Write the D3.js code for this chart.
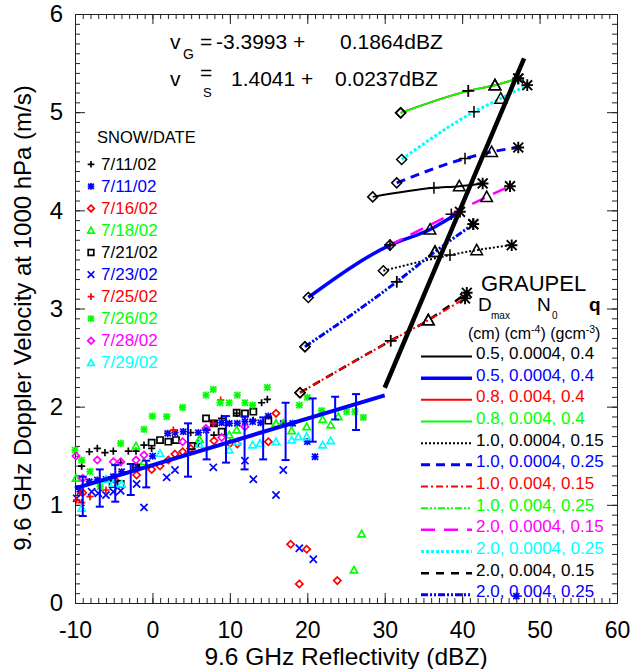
<!DOCTYPE html>
<html><head><meta charset="utf-8">
<script src="https://cdn.jsdelivr.net/npm/d3@7"></script>
<style>body{margin:0;background:#fff}svg text{font-family:"Liberation Sans",Arial,Helvetica,sans-serif}</style>
</head><body><svg id="c" width="634" height="669"></svg>
<script>
// ---------------- DATA ----------------
const xTicks = [-10, 0, 10, 20, 30, 40, 50, 60];
const yTicks = [0, 1, 2, 3, 4, 5, 6];
const xTitle = "9.6 GHz Reflectivity (dBZ)";
const yTitle = "9.6 GHz Doppler Velocity at 1000 hPa (m/s)";

const snowLabels = ["7/11/02","7/11/02","7/16/02","7/18/02","7/21/02","7/23/02","7/25/02","7/26/02","7/28/02","7/29/02"];
const snowColors = ["#000000","#0000ff","#ff0000","#00ff00","#000000","#0000ff","#ff0000","#00ff00","#ff00ff","#00ffff"];
const snowSymbols = ["plus","asterisk","diamond","triangle","square","x","plus","asterisk","diamond","triangle"];

const s0711a = [[-9.14,1.395],[-8.15,1.541],[-7.12,1.575],[-6.13,1.531],[-5.05,1.548],[-4.1,1.43],[-3.11,1.548],[-2.12,1.548],[-1.09,1.609],[-0.1,1.575],[4.94,1.735],[5.93,1.626],[7.95,1.711],[8.94,1.881],[10.88,1.932],[13.0,1.86],[14.1,2.04],[14.84,2.074]];
const s0711b = [[-9.35,1.134],[-8.15,1.236],[-7.12,1.253],[-6.0,1.26],[-5.05,1.287],[-3.97,1.337],[-1.95,1.382],[0.03,1.497],[1.97,1.728],[2.91,1.735],[3.99,1.745],[5.93,1.735],[6.92,1.762],[7.95,1.83],[8.94,1.836],[9.93,1.83],[10.96,1.83],[11.95,1.847],[12.94,1.847],[13.98,1.836],[14.97,1.904],[16.9,1.83],[18.11,1.83],[20.0,1.643],[21.0,1.49],[47.0,0.07]];
const s0716 = [[-9.01,1.124],[-4.84,1.253],[-2.04,1.304],[-0.1,1.361],[0.98,1.395],[2.05,1.456],[2.91,1.517],[3.9,1.541],[4.94,1.575],[7.95,1.653],[10.02,1.626],[10.96,1.619],[14.97,1.643],[15.96,1.932],[17.85,0.598],[18.97,0.194],[19.92,0.547],[23.88,0.228]];
const s0718 = [[-9.87,1.27],[-2.12,1.599],[-1.09,1.44],[6.06,1.667],[9.93,1.711],[10.88,1.762],[15.96,1.83],[16.9,1.83],[17.98,1.755],[19.92,1.796],[21.98,1.87],[23.02,1.813],[24.01,1.898],[27.02,0.703],[26.03,0.336]];
const s0721 = [[-5.14,1.212],[-4.1,1.212],[-2.12,1.382],[-0.1,1.633],[0.98,1.66],[2.05,1.643],[3.04,1.66],[5.07,1.599],[6.92,1.881],[7.95,1.83],[8.94,1.745],[10.88,1.938],[11.95,1.932],[13.03,1.949],[14.97,1.857]];
const s0723 = [[-9.78,1.066],[-7.85,1.134],[-6.99,1.117],[-6.0,1.1],[-5.05,1.134],[-4.1,1.144],[-2.04,1.212],[-1.09,0.974],[1.84,1.28],[2.91,1.355],[7.86,1.382],[11.95,1.45],[13.03,1.26],[15.96,1.1],[16.9,1.355],[18.97,0.557],[20.78,0.445]];
const s0725 = [[-9.78,1.049],[-9.14,1.022],[-8.06,1.083],[-6.0,1.151],[2.7,1.762],[7.86,1.83],[8.81,2.067]];
const s0726 = [[-10.0,1.558],[-9.14,1.456],[-8.06,1.338],[-6.77,1.185],[-4.1,1.626],[-1.09,1.769],[-0.01,1.904],[1.84,1.898],[3.9,1.993],[6.92,2.118],[7.86,2.176],[8.73,2.04],[9.89,2.04],[10.96,2.118],[11.95,2.04],[12.94,2.016],[14.84,2.196],[18.97,2.016],[20.0,2.095],[21.85,1.959],[25.08,1.949],[26.16,1.949],[27.24,1.891]];
const s0728 = [[-9.87,1.497],[-9.01,1.27],[-7.12,1.456],[-5.05,1.439],[-4.1,1.439],[-2.12,1.456],[-1.09,1.507],[3.9,1.643],[6.92,1.779],[8.94,1.687],[11.95,1.796]];
const s0729 = [[-9.14,0.964],[-6.0,1.26],[-5.05,1.219],[-3.97,1.212],[0.98,1.524],[6.06,1.616],[9.93,1.558],[10.96,1.643],[12.94,1.609],[13.89,1.626],[15.96,1.643],[17.98,1.66],[18.84,1.694],[19.92,1.694],[21.98,1.609],[23.02,1.653]];
const snowData = [s0711a, s0711b, s0716, s0718, s0721, s0723, s0725, s0726, s0728, s0729];

// snow bin means with error bars
const errX  = [-9.0,-6.8,-4.8,-2.8,-0.8,4.6,7.0,9.5,11.9,14.3,17.2,20.7,23.6,26.3];
const errLo = [0.886,0.981,1.032,1.100,1.178,1.287,1.463,1.430,1.361,1.463,1.456,1.643,1.870,1.762];
const errHi = [1.287,1.361,1.405,1.416,1.450,1.830,1.762,1.904,1.897,1.891,2.040,2.084,2.101,2.128];

// fits: v = a + b*dBZ
const fitNames = ["G", "S"];
const fitA = [-3.3993, 1.4041];
const fitB = [0.1864, 0.0237];
const fitRange = [[30.0, 48.0], [-10, 30]];

// graupel model curves (D, N0, q)
const graupelLabels = ["0.5, 0.0004, 0.4","0.5, 0.0004, 0.4","0.8, 0.004, 0.4","0.8, 0.004, 0.4","1.0, 0.0004, 0.15","1.0, 0.0004, 0.25","1.0, 0.004, 0.15","1.0, 0.004, 0.25","2.0, 0.0004, 0.15","2.0, 0.0004, 0.25","2.0, 0.004, 0.15","2.0, 0.004, 0.25"];
const g1  = [[28.45,4.137],[36.36,4.229],[39.63,4.246],[42.65,4.274]];
const g2  = [[20.13,3.113],[30.68,3.646],[35.85,3.805],[39.72,3.985]];
const g3  = [[32.06,4.993],[40.8,5.217],[44.24,5.275],[47.25,5.343]];
const g4  = [[32.06,4.993],[40.8,5.217],[44.24,5.275],[47.25,5.343]];
const g5  = [[29.82,3.384],[38.43,3.544],[41.88,3.595],[46.4,3.645]];
const g6  = [[31.55,4.28],[40.37,4.528],[43.81,4.596],[47.25,4.64]];
const g7  = [[19.06,2.142],[30.77,2.671],[35.63,2.882],[40.37,3.103]];
const g8  = [[19.70,2.61],[31.55,3.272],[36.49,3.578],[41.44,3.859]];
const g9  = [[30.68,3.646],[38.6,3.96],[43.17,4.137],[46.18,4.246]];
const g10 = [[32.19,4.518],[41.53,5.003],[44.98,5.139],[48.41,5.275]];
const g11 = [[19.06,2.142],[30.77,2.671],[35.63,2.882],[40.6,3.16]];
const g12 = [[19.70,2.61],[31.55,3.272],[36.49,3.578],[41.44,3.859]];
const graupelCurves = [g1,g2,g3,g4,g5,g6,g7,g8,g9,g10,g11,g12];

// ---------------- STYLES ----------------
const graupelColors = ["#000","#0000ff","#ff0000","#00ff00","#000","#0000ff","#ff0000","#00ff00","#ff00ff","#00ffff","#000","#0000ff"];
const graupelWidths = [2,3.5,2,2,2,3,2,2,2.5,3,2.5,3];
const graupelDash = [null,null,null,null,"2,2","9,6","7,3,2,3","7,2,2,2,2,2","14,9","3,2","8,7","7,2,2,2,2,2"];
const drawOrder = [2,3,0,1,4,5,8,9,10,6,7,11];
const curveMarkers = ["diamond","plus","triangle","asterisk"];

const svg = d3.select("#c");
const x = d3.scaleLinear().domain([-10, 60]).range([75, 617]);
const y = d3.scaleLinear().domain([0, 6]).range([603, 14]);
const fmt = v => d3.format(".4f")(v).replace("\u2212", "-");

function symPath(type, s) {
  switch (type) {
    case "plus": return `M${-s},0H${s}M0,${-s}V${s}`;
    case "x": return `M${-s},${-s}L${s},${s}M${-s},${s}L${s},${-s}`;
    case "asterisk": { const d = s*0.85; return `M${-s},0H${s}M0,${-s}V${s}M${-d},${-d}L${d},${d}M${-d},${d}L${d},${-d}`; }
    case "diamond": return `M0,${-s}L${s},0L0,${s}L${-s},0Z`;
    case "triangle": return `M0,${-s}L${s},${s*0.8}L${-s},${s*0.8}Z`;
    case "square": return `M${-s*0.85},${-s*0.85}H${s*0.85}V${s*0.85}H${-s*0.85}Z`;
  }
}
const symStroke = t => 1.7;

// ---------------- AXES ----------------
const minorX = d3.range(-10, 60.01, 1);
const minorY = d3.range(0, 6.001, 0.1).map(v => +v.toFixed(2));
const axG = svg.append("g");
function styleAxis(g) {
  g.select(".domain").attr("stroke", "#222").attr("stroke-width", 1);
  g.selectAll(".tick line").attr("stroke", "#222").attr("stroke-width", 1);
}
axG.append("g").attr("transform", `translate(0,${y(0)})`).call(d3.axisBottom(x).tickValues(minorX).tickSize(-5).tickSizeOuter(0).tickFormat("")).call(styleAxis);
axG.append("g").attr("transform", `translate(0,${y(6)})`).call(d3.axisTop(x).tickValues(minorX).tickSize(-5).tickSizeOuter(0).tickFormat("")).call(styleAxis);
axG.append("g").attr("transform", `translate(${x(-10)},0)`).call(d3.axisLeft(y).tickValues(minorY).tickSize(-5).tickSizeOuter(0).tickFormat("")).call(styleAxis);
axG.append("g").attr("transform", `translate(${x(60)},0)`).call(d3.axisRight(y).tickValues(minorY).tickSize(-5).tickSizeOuter(0).tickFormat("")).call(styleAxis);
const xb = axG.append("g").attr("transform", `translate(0,${y(0)})`).call(d3.axisBottom(x).tickValues(xTicks).tickSize(-10).tickSizeOuter(0).tickPadding(19).tickFormat(d3.format("d"))).call(styleAxis);
axG.append("g").attr("transform", `translate(0,${y(6)})`).call(d3.axisTop(x).tickValues(xTicks).tickSize(-10).tickSizeOuter(0).tickFormat("")).call(styleAxis);
const yl = axG.append("g").attr("transform", `translate(${x(-10)},0)`).call(d3.axisLeft(y).tickValues(yTicks).tickSize(-10).tickSizeOuter(0).tickPadding(12).tickFormat(d3.format("d"))).call(styleAxis);
axG.append("g").attr("transform", `translate(${x(60)},0)`).call(d3.axisRight(y).tickValues(yTicks).tickSize(-10).tickSizeOuter(0).tickFormat("")).call(styleAxis);
xb.selectAll("text").attr("font-size", 23).attr("fill", "#000").attr("font-family", '"Liberation Sans",Arial,sans-serif').text(d => d < 0 ? "-" + Math.abs(d) : d);
yl.selectAll("text").attr("font-size", 24).attr("fill", "#000").attr("font-family", '"Liberation Sans",Arial,sans-serif');

svg.append("text").attr("x", (x(-10) + x(60)) / 2).attr("y", 665).attr("text-anchor", "middle").attr("font-size", 24.5).text(xTitle);
svg.append("text").attr("transform", `translate(31,318) rotate(-90)`).attr("text-anchor", "middle").attr("font-size", 24).text(yTitle);

// ---------------- SCATTER ----------------
const scG = svg.append("g");
snowData.forEach((pts, i) => {
  scG.append("g").selectAll("path").data(pts).join("path")
    .attr("transform", d => `translate(${x(d[0])},${y(d[1])})`)
    .attr("d", symPath(snowSymbols[i], 3.6))
    .attr("fill", "none").attr("stroke", snowColors[i])
    .attr("stroke-width", symStroke(snowSymbols[i]));
});

const line = d3.line().x(d => x(d[0])).y(d => y(d[1]));
svg.append("path").attr("d", line(fitRange[1].map(v => [v, fitA[1] + fitB[1] * v])))
  .attr("stroke", "#0000ff").attr("stroke-width", 4).attr("fill", "none");

const eb = svg.append("g").attr("stroke", "#0000ff").attr("stroke-width", 2);
errX.forEach((xv, i) => {
  eb.append("line").attr("x1", x(xv)).attr("x2", x(xv)).attr("y1", y(errLo[i])).attr("y2", y(errHi[i]));
  eb.append("line").attr("x1", x(xv) - 4).attr("x2", x(xv) + 4).attr("y1", y(errLo[i])).attr("y2", y(errLo[i]));
  eb.append("line").attr("x1", x(xv) - 4).attr("x2", x(xv) + 4).attr("y1", y(errHi[i])).attr("y2", y(errHi[i]));
});

// ---------------- GRAUPEL CURVES ----------------
const cline = d3.line().x(d => x(d[0])).y(d => y(d[1])).curve(d3.curveMonotoneX);
const gG = svg.append("g");
drawOrder.forEach(i => {
  const p = gG.append("path").attr("d", cline(graupelCurves[i])).attr("fill", "none")
    .attr("stroke", graupelColors[i]).attr("stroke-width", graupelWidths[i]);
  if (graupelDash[i]) p.attr("stroke-dasharray", graupelDash[i]);
});
graupelCurves.forEach(c => {
  c.forEach((d, k) => {
    gG.append("path").attr("transform", `translate(${x(d[0])},${y(d[1])})`)
      .attr("d", symPath(curveMarkers[k], k === 0 ? 5 : 5.8))
      .attr("fill", "none").attr("stroke", "#000").attr("stroke-width", k === 3 ? 1.9 : 1.5);
  });
});

svg.append("path").attr("d", line(fitRange[0].map(v => [v, fitA[0] + fitB[0] * v])))
  .attr("stroke", "#000").attr("stroke-width", 4.5).attr("fill", "none");

// ---------------- EQUATIONS ----------------
const eq = svg.append("g").attr("font-size", 21).attr("fill", "#000");
eq.append("text").attr("x", 170).attr("y", 49).text("v");
eq.append("text").attr("x", 183).attr("y", 59).attr("font-size", 14).text(fitNames[0]);
eq.append("text").attr("x", 200).attr("y", 49).text("=");
eq.append("text").attr("x", 216).attr("y", 49).text(fmt(fitA[0]) + " +");
eq.append("text").attr("x", 340).attr("y", 49).text(fmt(fitB[0]) + "dBZ");
eq.append("text").attr("x", 170).attr("y", 86).text("v");
eq.append("text").attr("x", 200).attr("y", 80).text("=");
eq.append("text").attr("x", 203).attr("y", 97).attr("font-size", 13).text(fitNames[1]);
eq.append("text").attr("x", 231).attr("y", 86).text(fmt(fitA[1]) + " +");
eq.append("text").attr("x", 335).attr("y", 86).text(fmt(fitB[1]) + "dBZ");

// ---------------- SNOW LEGEND ----------------
const sl = svg.append("g");
sl.append("text").attr("x", 97).attr("y", 143).attr("font-size", 16.5).text("SNOW/DATE");
snowLabels.forEach((lab, i) => {
  const yy = 163.3 + i * 22.05;
  sl.append("path").attr("transform", `translate(91,${yy + 1})`).attr("d", symPath(snowSymbols[i], 3.3))
    .attr("fill", "none").attr("stroke", snowColors[i]).attr("stroke-width", symStroke(snowSymbols[i]));
  sl.append("text").attr("x", 101).attr("y", yy + 6.5).attr("font-size", 17).attr("fill", snowColors[i]).text(lab);
});

// ---------------- GRAUPEL LEGEND ----------------
const gl = svg.append("g");
gl.append("text").attr("x", 481).attr("y", 291).attr("font-size", 22).text("GRAUPEL");
gl.append("text").attr("x", 478).attr("y", 311).attr("font-size", 19).text("D");
gl.append("text").attr("x", 491).attr("y", 319).attr("font-size", 10).text("max");
gl.append("text").attr("x", 537).attr("y", 311).attr("font-size", 19).text("N");
gl.append("text").attr("x", 552).attr("y", 319).attr("font-size", 10).text("0");
gl.append("text").attr("x", 589).attr("y", 311).attr("font-size", 19).attr("font-weight", "bold").text("q");
const hdr = gl.append("text").attr("x", 468).attr("y", 339).attr("font-size", 16);
hdr.append("tspan").text("(cm) (cm");
hdr.append("tspan").attr("font-size", 10.5).attr("dy", -6).text("-4");
hdr.append("tspan").attr("dy", 6).text(") (gcm");
hdr.append("tspan").attr("font-size", 10.5).attr("dy", -6).text("-3");
hdr.append("tspan").attr("dy", 6).text(")");
graupelLabels.forEach((lab, i) => {
  const yy = 353 + i * 21.67;
  const p = gl.append("line").attr("x1", 421).attr("x2", 472).attr("y1", yy + 3.5).attr("y2", yy + 3.5)
    .attr("stroke", graupelColors[i]).attr("stroke-width", graupelWidths[i]);
  if (graupelDash[i]) p.attr("stroke-dasharray", graupelDash[i]);
  gl.append("text").attr("x", 476).attr("y", yy + 6).attr("font-size", 17).attr("fill", graupelColors[i]).text(lab);
});
</script></body></html>
